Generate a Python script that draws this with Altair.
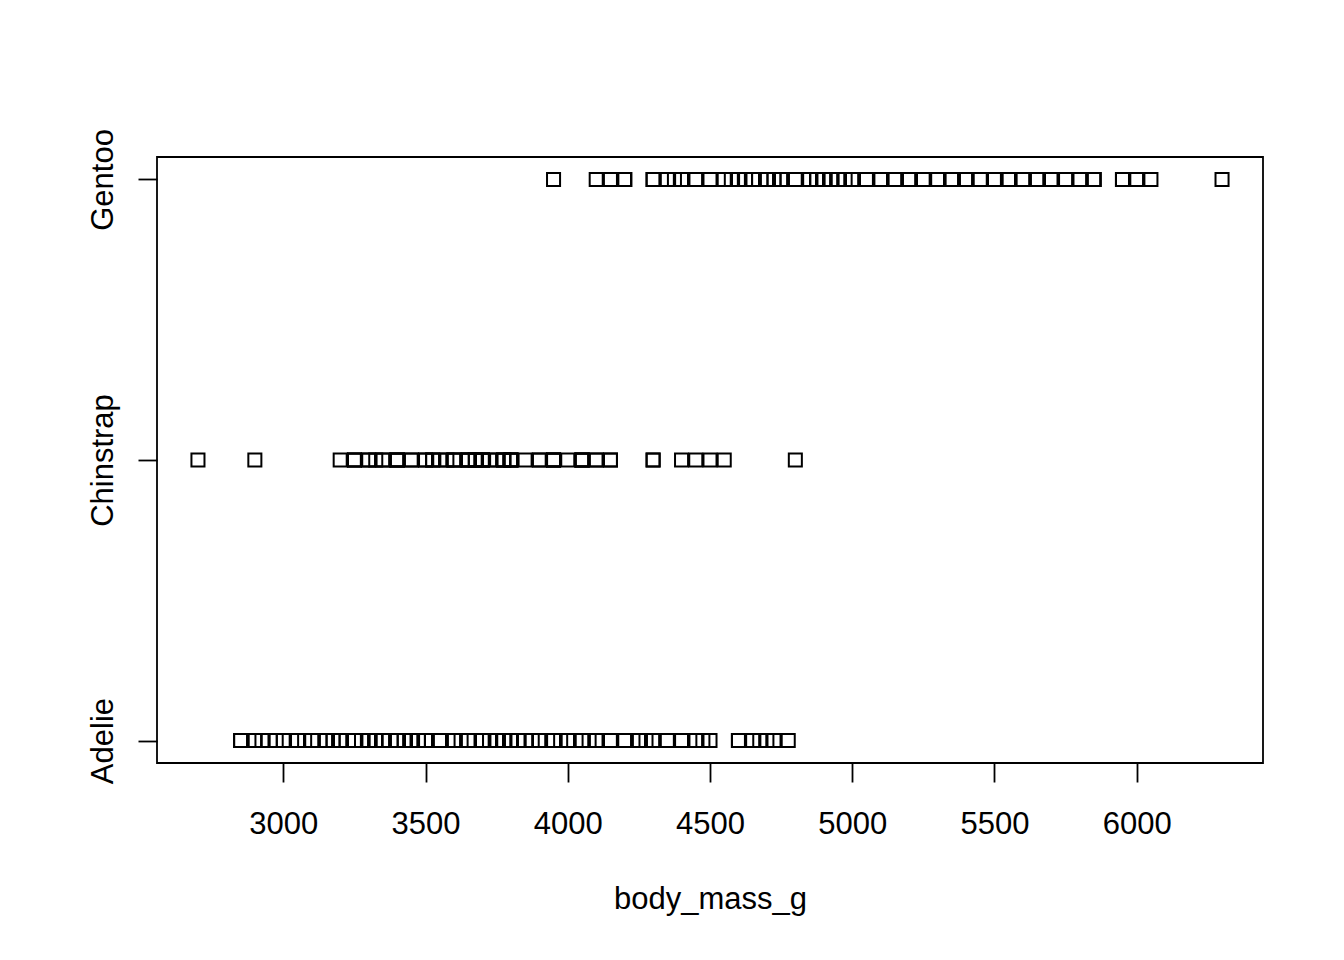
import altair as alt
import pandas as pd

species_labels = ["Adelie", "Chinstrap", "Gentoo"]

adelie_mass = [3750, 3800, 3250, 3450, 3650, 3625, 4675, 3475, 4250, 3300, 3700, 3200, 3800, 4400,
               3700, 3450, 4500, 3325, 4200, 3400, 3600, 3800, 3950, 3800, 3800, 3550, 3200, 3150,
               3950, 3250, 3900, 3300, 3900, 3325, 4150, 3950, 3550, 3300, 4650, 3150, 3900, 3100,
               4400, 3000, 4600, 3425, 2975, 3450, 4150, 3500, 4300, 3450, 4050, 2900, 3700, 3550,
               3800, 2850, 3750, 3150, 4400, 3600, 4050, 2850, 3950, 3350, 4100, 3050, 4450, 3600,
               3900, 3550, 4150, 3700, 4250, 3700, 3900, 3550, 4000, 3200, 4700, 3800, 4200, 3350,
               3550, 3800, 3500, 3950, 3600, 3550, 4300, 3400, 4450, 3300, 4300, 3700, 4350, 2900,
               4100, 3725, 4725, 3075, 4250, 2925, 3550, 3750, 3900, 3175, 4775, 3825, 4600, 3200,
               4275, 3900, 4075, 2900, 3775, 3350, 3325, 3150, 3500, 3450, 3875, 3050, 4000, 3275,
               4300, 3050, 4000, 3325, 3500, 3500, 4475, 3425, 3900, 3175, 3975, 3400, 4250, 3400,
               3475, 3050, 3725, 3000, 3650, 4250, 3475, 3450, 3750, 3700, 4000]

chinstrap_mass = [3500, 3900, 3650, 3525, 3725, 3950, 3250, 3750, 4150, 3700, 3800, 3775, 3700, 4050,
                  3575, 4050, 3300, 3700, 3450, 4400, 3600, 3400, 2900, 3800, 3300, 4150, 3400, 3800,
                  3700, 4550, 3200, 4300, 3350, 4100, 3600, 3900, 3850, 4800, 2700, 4500, 3950, 3650,
                  3550, 3500, 3675, 4450, 3400, 4300, 3250, 3675, 3325, 3950, 3600, 4050, 3350, 3450,
                  3250, 4050, 3800, 3525, 3950, 3650, 3650, 4000, 3400, 3775, 4100, 3775]

gentoo_mass = [4500, 5700, 4450, 5700, 5400, 4550, 4800, 5200, 4400, 5150, 4650, 5550, 4650, 5850,
               4200, 5850, 4150, 6300, 4800, 5350, 5700, 5000, 4400, 5050, 5000, 5100, 4100, 5650,
               4600, 5550, 5250, 4700, 5050, 6050, 5150, 5400, 4950, 5250, 4350, 5350, 3950, 5700,
               4300, 4750, 5550, 4900, 4200, 5400, 5100, 5300, 4850, 5300, 4400, 5000, 4900, 5050,
               4300, 5000, 4450, 5550, 4200, 5300, 4400, 5650, 4700, 5700, 4650, 5800, 4700, 5550,
               4750, 5000, 5100, 5200, 4700, 5800, 4600, 6000, 4750, 5950, 4625, 5450, 4725, 5350,
               4750, 5600, 4600, 5300, 4875, 5550, 4950, 5400, 4750, 5650, 4850, 5200, 4925, 4875,
               4625, 5250, 4850, 5600, 4975, 5500, 4725, 5500, 4700, 5500, 4575, 5500, 5000, 5950,
               4650, 5500, 4375, 5850, 4875, 6000, 4925, 4850, 5750, 5200, 5400]

x_ticks = [3000, 3500, 4000, 4500, 5000, 5500, 6000]

rows = []
for code, masses in enumerate([adelie_mass, chinstrap_mass, gentoo_mass], start=1):
    for m in masses:
        rows.append({"body_mass_g": m, "species": code})
df = pd.DataFrame(rows)

FONT = "Liberation Sans"

label_expr = ("datum.value == 1 ? 'Adelie' : datum.value == 2 ? 'Chinstrap' : "
              "datum.value == 3 ? 'Gentoo' : ''")

chart = alt.Chart(df).mark_point(
    shape="square", filled=False, color="black", size=170, strokeWidth=2, opacity=1
).encode(
    x=alt.X("body_mass_g:Q",
            scale=alt.Scale(domain=[2556, 6444], nice=False, zero=False),
            axis=alt.Axis(values=x_ticks, format="d", title="body_mass_g", grid=False, domain=False,
                          tickSize=19, tickWidth=1.8, tickColor="black",
                          labelFont=FONT, labelFontSize=31, labelColor="black",
                          labelBaseline="alphabetic", labelPadding=51, labelFlush=False,
                          labelOverlap=False,
                          titleFont=FONT, titleFontSize=31, titleFontWeight="normal",
                          titleColor="black", titleBaseline="alphabetic", titleY=145,
                          titleAnchor="middle")),
    y=alt.Y("species:Q",
            scale=alt.Scale(domain=[0.92, 3.08], nice=False, zero=False),
            axis=alt.Axis(values=[1, 2, 3], labelExpr=label_expr, title=None, grid=False,
                          domain=False, tickSize=19, tickWidth=1.8, tickColor="black",
                          labelFont=FONT, labelFontSize=31, labelColor="black",
                          labelAngle=270, labelAlign="center", labelBaseline="alphabetic",
                          labelPadding=26, labelFlush=False, labelOverlap=False)),
).properties(
    width=1106, height=606,
    autosize=alt.AutoSizeParams(type="none"),
    padding={"left": 149, "top": 149, "right": 73, "bottom": 190},
).configure(
    background="white",
    view=alt.ViewConfig(stroke="black", strokeWidth=1.8, fill="white"),
)

chart.save("out.html", embed_options={"renderer": "svg", "actions": False})
